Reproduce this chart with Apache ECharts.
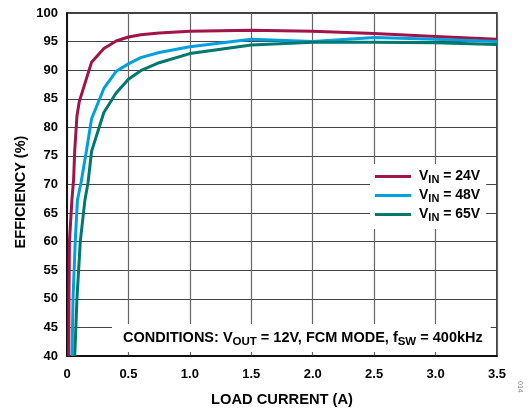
<!DOCTYPE html>
<html><head><meta charset="utf-8">
<script src="https://cdn.jsdelivr.net/npm/echarts@6/dist/echarts.min.js"></script>
<style>html,body{margin:0;padding:0;background:#fff}#c{width:531px;height:412px}</style>
</head><body><div id="c"></div>
<script>
// Data
const cur24 = [0.014, 0.016, 0.02, 0.04, 0.054, 0.063, 0.081, 0.1, 0.2, 0.3, 0.4, 0.5, 0.6, 0.75, 1.0, 1.5, 2.0, 2.5, 3.0, 3.5];
const eff24 = [40, 50, 60, 67.3, 71, 76, 82, 84.5, 91.4, 93.8, 95.1, 95.8, 96.2, 96.5, 96.8, 97.0, 96.8, 96.4, 95.9, 95.4];
const cur48 = [0.041, 0.049, 0.067, 0.085, 0.114, 0.159, 0.2, 0.3, 0.4, 0.5, 0.6, 0.75, 1.0, 1.5, 2.0, 2.5, 3.0, 3.5];
const eff48 = [40, 50, 60, 67.3, 70.3, 76, 81.5, 86.8, 89.8, 91.1, 92.2, 93.1, 94.1, 95.4, 95.0, 95.7, 95.4, 95.0];
const cur65 = [0.063, 0.081, 0.108, 0.146, 0.171, 0.2, 0.3, 0.4, 0.5, 0.6, 0.75, 1.0, 1.5, 2.0, 2.5, 3.0, 3.5];
const eff65 = [40, 50, 60, 67.3, 70.3, 75.8, 82.6, 86.0, 88.4, 89.9, 91.3, 92.9, 94.4, 94.9, 94.9, 94.8, 94.5];
const seriesNames = ['24V', '48V', '65V'];
const colors = ['#a0144a', '#00a0dc', '#00786e'];

const FONT = "'Liberation Sans', Arial, sans-serif";
const pairs = (xs, ys) => xs.map((x, i) => [x, ys[i]]);
const allCur = [cur24, cur48, cur65];
const allEff = [eff24, eff48, eff65];

const chart = echarts.init(document.getElementById('c'));
chart.setOption({
  animation: false,
  grid: { left: 67, right: 34, top: 13, bottom: 55, show: true, borderColor: '#000', borderWidth: 1.5, backgroundColor: 'transparent' },
  xAxis: {
    type: 'value', min: 0, max: 3.5, interval: 0.5,
    name: 'LOAD CURRENT (A)', nameLocation: 'middle', nameGap: 36,
    nameTextStyle: { fontFamily: FONT, fontWeight: 'bold', fontSize: 14.7, color: '#000' },
    axisLine: { show: true, lineStyle: { color: '#000', width: 1.5 } },
    axisTick: { show: false },
    axisLabel: { fontFamily: FONT, fontWeight: 'bold', fontSize: 13, color: '#000', margin: 12,
      formatter: v => v === 0 ? '0' : v.toFixed(1) },
    splitLine: { show: true, lineStyle: { color: '#666', width: 1.2 } }
  },
  yAxis: {
    type: 'value', min: 40, max: 100, interval: 5,
    axisLine: { show: true, lineStyle: { color: '#000', width: 1.5 } },
    axisTick: { show: false },
    axisLabel: { fontFamily: FONT, fontWeight: 'bold', fontSize: 13, color: '#000', margin: 9, padding: [4, 0, 0, 0] },
    splitLine: { show: true, lineStyle: { color: '#444', width: 1.2 } }
  },
  legend: {
    data: seriesNames.map(n => 'VIN ' + n),
    orient: 'vertical', left: 370, top: 164,
    backgroundColor: '#fff', padding: [4, 6, 6, 5],
    itemWidth: 36, itemHeight: 3, itemGap: 2, icon: 'rect',
    formatter: name => '{v|V}{s|IN}{a| = ' + name.slice(4) + '}',
    textStyle: {
      fontFamily: FONT, fontWeight: 'bold', color: '#000',
      rich: {
        v: { fontFamily: FONT, fontWeight: 'bold', fontSize: 14, color: '#000', lineHeight: 15, padding: [0, 0, 0, 3] },
        a: { fontFamily: FONT, fontWeight: 'bold', fontSize: 14, color: '#000', lineHeight: 15 },
        s: { fontFamily: FONT, fontWeight: 'bold', fontSize: 11, color: '#000', lineHeight: 10, padding: [6, 0, 0, 0] }
      }
    }
  },
  graphic: [
    {
      type: 'text', x: 21, y: 192, rotation: Math.PI / 2, z: 10,
      style: { text: 'EFFICIENCY (%)', fontFamily: FONT, fontWeight: 'bold', fontSize: 14.5, fill: '#000',
        align: 'center', verticalAlign: 'middle' }
    },
    {
      type: 'text', left: 112, top: 324, z: 10,
      style: {
        text: '{a|CONDITIONS: V}{s|OUT}{a| = 12V, FCM MODE, f}{s|SW}{a| = 400kHz}',
        backgroundColor: '#fff', padding: [6, 8, 6, 11],
        rich: {
          a: { fontFamily: FONT, fontWeight: 'bold', fontSize: 14.5, fill: '#000', lineHeight: 16 },
          s: { fontFamily: FONT, fontWeight: 'bold', fontSize: 11.5, fill: '#000', lineHeight: 10, padding: [7, 0, 0, 0] }
        }
      }
    },
    {
      type: 'text', left: 516, top: 381, rotation: -Math.PI / 2,
      style: { text: '014', fontFamily: FONT, fontSize: 7, fill: '#888' }
    }
  ],
  series: seriesNames.map((n, i) => ({
    name: 'VIN ' + n, type: 'line', showSymbol: false, symbol: 'none',
    data: pairs(allCur[i], allEff[i]),
    lineStyle: { color: colors[i], width: 3 }, itemStyle: { color: colors[i] },
    clip: true, z: 3
  }))
});
</script></body></html>
